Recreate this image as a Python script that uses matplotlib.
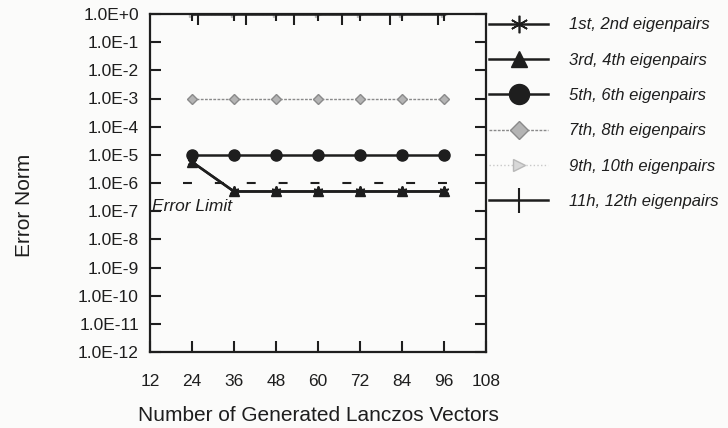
import matplotlib
matplotlib.use("Agg")
import matplotlib.pyplot as plt
from matplotlib.ticker import FixedLocator, NullFormatter

plt.rcParams['font.family'] = ['Liberation Sans', 'DejaVu Sans']

# Number of generated Lanczos vectors
vectors = [24, 36, 48, 60, 72, 84, 96]

# Error norm of each eigenpair group
err_1_2 = [5.6e-6, 5.0e-7, 5.0e-7, 5.0e-7, 5.0e-7, 5.0e-7, 5.0e-7]
err_3_4 = [5.6e-6, 5.0e-7, 5.0e-7, 5.0e-7, 5.0e-7, 5.0e-7, 5.0e-7]
err_5_6 = [1.0e-5, 1.0e-5, 1.0e-5, 1.0e-5, 1.0e-5, 1.0e-5, 1.0e-5]
err_7_8 = [1.0e-3, 1.0e-3, 1.0e-3, 1.0e-3, 1.0e-3, 1.0e-3, 1.0e-3]
err_9_10 = [1.0e0, 1.0e0, 1.0e0, 1.0e0, 1.0e0, 1.0e0, 1.0e0]
err_11_12 = [1.0e0, 1.0e0, 1.0e0, 1.0e0, 1.0e0, 1.0e0, 1.0e0]

error_limit = 1.0e-6

labels = ["1st, 2nd eigenpairs", "3rd, 4th eigenpairs", "5th, 6th eigenpairs",
          "7th, 8th eigenpairs", "9th, 10th eigenpairs", "11h, 12th eigenpairs"]

x_ticks = [12, 24, 36, 48, 60, 72, 84, 96, 108]
y_exponents = list(range(0, -13, -1))
y_tick_labels = ["1.0E+0"] + ["1.0E%d" % e for e in y_exponents[1:]]

ink = '#1e1e1e'

fig = plt.figure(figsize=(7.28, 4.28), dpi=100)
fig.patch.set_facecolor('#fbfbfa')
ax = fig.add_axes([150 / 728, 1 - 352 / 428, 336 / 728, 338 / 428])
ax.set_facecolor('#fbfbfa')

ax.set_yscale('log')
ax.set_xlim(12, 108)
ax.set_ylim(1e-12, 1e0)

# Error limit
ax.hlines(error_limit, 21.3, 97, colors=ink, linewidth=1.5,
          linestyles=(0, (4.3, 11.0)), zorder=1)
ax.text(12.6, 10 ** -6.85, "Error Limit", fontsize=12.5, fontstyle='italic',
        va='center', ha='left', color=ink)

h9, = ax.plot(vectors, err_9_10, color='#c8c8c8', linestyle=':', linewidth=1.0,
              marker='>', markersize=5, markerfacecolor='#d8d8d8',
              markeredgecolor='#b8b8b8', zorder=2)
h11, = ax.plot(vectors, err_11_12, color=ink, linewidth=1.8,
               marker='|', markersize=10, markeredgewidth=1.5, zorder=3)
h7, = ax.plot(vectors, err_7_8, color='#8a8a8a', linestyle=(0, (2, 1)), linewidth=1.0,
              marker='D', markersize=5, markerfacecolor='#b4b4b4',
              markeredgecolor='#8a8a8a', zorder=3)
h5, = ax.plot(vectors, err_5_6, color=ink, linewidth=1.8,
              marker='o', markersize=8, zorder=3)
h3, = ax.plot(vectors, err_3_4, color=ink, linewidth=1.8,
              marker='^', markersize=6.5, zorder=3)
h1, = ax.plot(vectors, err_1_2, color=ink, linewidth=1.8,
              marker=(6, 2, 0), markersize=7, markeredgewidth=1.2, zorder=4)

for s in ax.spines.values():
    s.set_linewidth(1.6)
    s.set_color(ink)

ax.xaxis.set_major_locator(FixedLocator(x_ticks))
ax.set_xticklabels([str(v) for v in x_ticks])
ax.yaxis.set_major_locator(FixedLocator([10.0 ** e for e in y_exponents]))
ax.yaxis.set_minor_locator(FixedLocator([]))
ax.set_yticklabels(y_tick_labels)
ax.tick_params(axis='x', direction='in', length=8, width=1.5, pad=16,
               labelsize=12.5, colors=ink, top=False)
ax.tick_params(axis='y', direction='in', length=8, width=1.5, pad=8,
               labelsize=12.5, colors=ink, right=True)

# Top axis ticks divide the span into seven parts
top = ax.twiny()
top.set_xlim(12, 108)
top.xaxis.set_major_locator(FixedLocator([12 + 96 * k / 7 for k in range(1, 7)]))
top.xaxis.set_major_formatter(NullFormatter())
top.tick_params(axis='x', direction='in', length=8, width=1.5, colors=ink)
for s in top.spines.values():
    s.set_visible(False)

ax.set_xlabel("Number of Generated Lanczos Vectors", fontsize=15, labelpad=12,
              color=ink)
fig.text(25 / 728, 1 - 205 / 428, "Error Norm", fontsize=15, rotation=90,
         ha='center', va='center', color=ink)

leg = ax.legend([h1, h3, h5, h7, h9, h11], labels, loc='upper left',
                bbox_to_anchor=(1.0, 1.0), borderaxespad=0, borderpad=0.2,
                frameon=False, handlelength=3.5, handletextpad=1.3,
                labelspacing=1.22, markerscale=1.8,
                prop={'size': 12, 'style': 'italic'})
for t in leg.get_texts():
    t.set_color(ink)

fig.savefig("out.png", dpi=100, facecolor=fig.get_facecolor())
